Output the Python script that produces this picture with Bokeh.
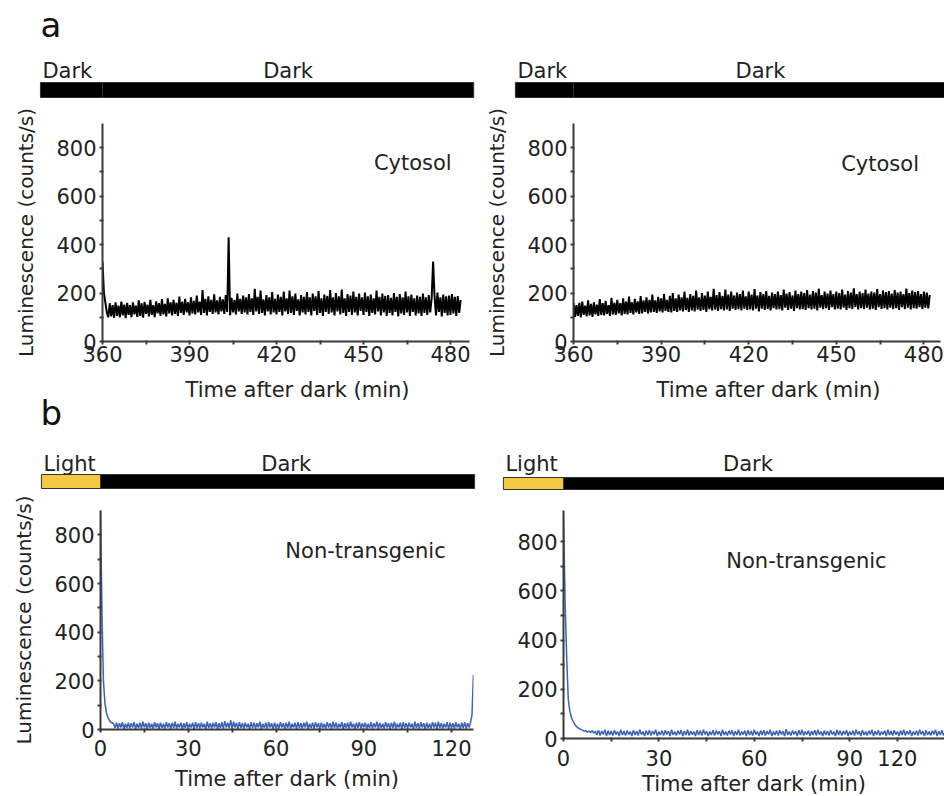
from bokeh.plotting import figure
from bokeh.layouts import column, row
from bokeh.models import Range1d, FixedTicker, Label
from bokeh.embed import file_html
from bokeh.resources import INLINE

FONT = "DejaVu Sans"
FS = "21px"
YFS = "20px"
BLUE = "#3a62b8"
YELLOW = "#f4c842"

# ---------------- data ----------------
# panel a, left (Cytosol), sampled every 0.5 min from 360 min
tl_t0, tl_dt = 360, 0.5
tl_values = [
    330, 200, 160, 120, 100, 158, 104, 150, 98, 162, 106, 148, 100, 165, 108, 152, 96, 160, 110, 150,
    100, 162, 112, 148, 102, 170, 106, 158, 98, 164, 114, 152, 104, 172, 110, 150, 100, 166, 116, 158,
    106, 175, 112, 155, 104, 178, 116, 162, 108, 172, 114, 160, 106, 185, 118, 165, 110, 176, 120, 162,
    108, 182, 116, 168, 112, 190, 120, 165, 110, 212, 118, 176, 108, 186, 122, 172, 114, 195, 120, 170,
    112, 184, 124, 174, 114, 192, 122, 430, 108, 180, 120, 172, 112, 198, 124, 176, 114, 190, 120, 182,
    112, 196, 122, 178, 110, 218, 124, 184, 114, 210, 118, 174, 108, 192, 124, 182, 112, 204, 120, 176,
    112, 194, 122, 184, 108, 206, 124, 178, 114, 210, 118, 186, 110, 198, 126, 174, 108, 192, 120, 184,
    112, 204, 122, 182, 108, 198, 126, 186, 110, 208, 118, 178, 106, 194, 122, 188, 114, 212, 120, 182,
    108, 200, 124, 186, 112, 214, 118, 178, 106, 196, 122, 190, 110, 206, 120, 184, 108, 198, 126, 182,
    110, 202, 122, 186, 106, 194, 118, 178, 112, 210, 124, 184, 108, 198, 120, 188, 106, 192, 118, 180,
    108, 200, 122, 184, 104, 196, 116, 182, 110, 206, 120, 186, 106, 194, 122, 178, 108, 190, 116, 184,
    106, 198, 118, 182, 110, 192, 120, 178, 330, 186, 108, 202, 122, 182, 104, 194, 118, 186, 108, 190,
    110, 196, 116, 184, 106, 188, 118, 172,
]

# panel a, right (Cytosol)
tr_t0, tr_dt = 360, 0.5
tr_values = [
    158, 102, 150, 106, 160, 100, 165, 110, 148, 104, 170, 108, 155, 102, 162, 112, 152, 106, 175, 110,
    158, 108, 168, 114, 150, 106, 180, 112, 160, 110, 172, 116, 158, 108, 178, 114, 165, 112, 185, 118,
    162, 112, 176, 120, 166, 114, 188, 116, 170, 122, 182, 116, 172, 120, 194, 122, 170, 118, 184, 124,
    178, 120, 196, 126, 172, 122, 188, 120, 200, 126, 178, 122, 194, 128, 182, 124, 206, 130, 180, 122,
    196, 128, 188, 124, 210, 132, 182, 126, 200, 130, 190, 122, 206, 134, 184, 128, 218, 132, 192, 126,
    204, 134, 188, 128, 214, 132, 194, 126, 206, 136, 190, 130, 202, 134, 196, 128, 210, 136, 186, 130,
    206, 132, 194, 128, 216, 136, 190, 124, 204, 136, 196, 130, 208, 134, 188, 128, 202, 138, 196, 132,
    206, 134, 192, 128, 214, 140, 198, 130, 204, 136, 190, 126, 210, 138, 196, 132, 206, 134, 200, 130,
    212, 138, 194, 132, 208, 136, 202, 128, 218, 140, 192, 134, 206, 138, 198, 130, 210, 142, 196, 132,
    206, 136, 200, 132, 214, 140, 194, 130, 208, 138, 202, 134, 220, 142, 196, 132, 206, 138, 200, 134,
    214, 140, 198, 132, 206, 136, 202, 130, 216, 142, 196, 134, 210, 138, 204, 132, 208, 140, 198, 134,
    212, 138, 202, 130, 206, 142, 196, 134, 218, 140, 200, 132, 210, 138, 204, 136, 208, 142, 196, 134,
    206, 140, 202, 137, 192,
]

# panel b, left (Non-transgenic), every 0.5 min from 0
bl_t0, bl_dt = 0, 0.5
bl_values = [
    910, 480, 200, 110, 70, 50, 38, 30, 28, 24, 6, 28, 4, 26, 8, 30, 2, 24, 6, 28,
    4, 26, 8, 30, 2, 24, 6, 28, 4, 32, 8, 26, 2, 28, 6, 24, 4, 30, 8, 26,
    2, 28, 6, 24, 4, 30, 8, 26, 2, 28, 6, 32, 4, 24, 8, 28, 2, 26, 6, 30,
    4, 24, 8, 28, 2, 30, 6, 26, 4, 28, 8, 24, 2, 32, 6, 26, 4, 28, 8, 30,
    2, 26, 6, 30, 4, 34, 8, 28, 6, 38, 4, 32, 8, 28, 2, 30, 6, 26, 4, 28,
    8, 24, 2, 30, 6, 28, 4, 26, 8, 32, 2, 24, 6, 28, 4, 30, 8, 26, 2, 28,
    6, 24, 4, 30, 8, 26, 2, 28, 6, 32, 4, 24, 8, 28, 2, 30, 6, 26, 4, 28,
    8, 32, 2, 24, 6, 28, 4, 30, 8, 26, 2, 28, 6, 24, 4, 30, 8, 26, 2, 32,
    6, 28, 4, 24, 8, 30, 2, 26, 6, 28, 4, 32, 8, 24, 2, 28, 6, 30, 4, 26,
    8, 28, 2, 24, 6, 30, 4, 26, 8, 32, 2, 28, 6, 24, 4, 30, 8, 26, 2, 28,
    6, 32, 4, 24, 8, 28, 2, 30, 6, 26, 4, 28, 8, 24, 2, 32, 6, 26, 4, 30,
    8, 26, 2, 28, 6, 24, 4, 30, 8, 28, 2, 32, 6, 26, 4, 24, 8, 30, 2, 28,
    6, 26, 4, 30, 8, 24, 2, 28, 6, 30, 4, 26, 8, 28, 60, 225,
]

# panel b, right (Non-transgenic)
br_t0, br_dt = 0, 0.5
br_values = [
    900, 560, 330, 160, 110, 85, 70, 58, 50, 44, 40, 36, 34, 30, 32, 26, 30, 24, 32, 22,
    30, 14, 34, 12, 30, 16, 36, 10, 32, 14, 30, 12, 34, 16, 28, 10, 36, 14, 30, 12,
    32, 16, 28, 10, 34, 14, 30, 12, 36, 16, 28, 10, 32, 14, 34, 12, 30, 16, 36, 10,
    28, 14, 32, 12, 34, 16, 30, 10, 36, 14, 28, 12, 32, 16, 34, 10, 30, 14, 36, 12,
    30, 16, 28, 10, 34, 14, 32, 12, 36, 16, 30, 10, 28, 14, 34, 12, 32, 16, 30, 10,
    36, 14, 28, 12, 32, 16, 34, 10, 30, 14, 36, 12, 28, 16, 32, 10, 34, 14, 30, 12,
    36, 16, 28, 10, 32, 14, 34, 12, 30, 16, 36, 10, 28, 14, 32, 12, 34, 16, 30, 10,
    38, 14, 28, 12, 32, 16, 30, 10, 34, 14, 36, 12, 28, 16, 32, 10, 30, 14, 34, 12,
    36, 16, 28, 10, 32, 14, 30, 12, 34, 16, 28, 10, 36, 14, 32, 12, 30, 16, 34, 10,
    28, 14, 32, 12, 36, 16, 30, 10, 34, 14, 28, 12, 32, 16, 36, 10, 30, 14, 34, 12,
    28, 16, 32, 10, 36, 14, 30, 12, 34, 16, 28, 10, 32, 14, 36, 12, 30, 16, 34, 10,
    28, 14, 32, 12, 36, 16, 30, 10, 34, 14, 28, 12, 32, 16, 36, 10, 30, 14, 34, 12,
    26,
]

# light/dark regimes (minutes)
tl_periods = dict(labels=["Dark", "Dark"], start=[338.6, 360], end=[360, 488], color=["black", "black"])
tr_periods = dict(labels=["Dark", "Dark"], start=[340.1, 360], end=[360, 490], color=["black", "black"])
bl_periods = dict(labels=["Light", "Dark"], start=[-20.2, 0], end=[0, 127.9], color=[YELLOW, "black"])
br_periods = dict(labels=["Light", "Dark"], start=[-18.9, 0], end=[0, 125], color=[YELLOW, "black"])

y_ticks = [0, 200, 400, 600, 800]
y_minor = [100, 300, 500, 700]
a_xticks = [360, 390, 420, 450, 480]
a_xminor = [375, 405, 435, 465]
bl_xticks = [0, 30, 60, 90, 120]
bl_xminor = [15, 45, 75, 105]
br_xticks = [0, 30, 60, 90, 105]
br_xminor = [15, 45, 75]
br_tick_labels = {105: "120"}

YLABEL = "Luminescence (counts/s)"
XLABEL = "Time after dark (min)"


def style_axis(ax, label, tick_std, label_std, label_fs):
    ax.axis_line_width = 2
    ax.axis_line_color = "#3a3a3a"
    ax.major_tick_line_color = "#3a3a3a"
    ax.minor_tick_line_color = "#3a3a3a"
    ax.major_tick_line_width = 2
    ax.minor_tick_line_width = 2
    ax.major_tick_out = 3
    ax.major_tick_in = 1
    ax.minor_tick_out = 3
    ax.minor_tick_in = 1
    ax.major_label_text_font = FONT
    ax.major_label_text_font_size = FS
    ax.major_label_text_color = "#222222"
    ax.major_label_standoff = tick_std
    ax.axis_label = label
    ax.axis_label_text_font = FONT
    ax.axis_label_text_font_size = label_fs
    ax.axis_label_text_font_style = "normal"
    ax.axis_label_text_color = "#222222"
    ax.axis_label_standoff = label_std


def main_fig(t, v, color, xr, yend, fw, fh, bl, br, bt, bb, xticks, xminor,
             ylabel, xlabel, ann, ann_x, ann_y, xstd, xlstd, lw, overrides=None):
    p = figure(frame_width=fw, frame_height=fh, x_range=Range1d(*xr), y_range=Range1d(0, yend),
               output_backend="svg", toolbar_location=None,
               min_border_left=bl, min_border_right=br, min_border_top=bt, min_border_bottom=bb)
    p.outline_line_color = None
    p.grid.visible = False
    p.background_fill_color = "white"
    p.border_fill_color = "white"
    p.xaxis.ticker = FixedTicker(ticks=xticks, minor_ticks=xminor)
    p.yaxis.ticker = FixedTicker(ticks=y_ticks, minor_ticks=y_minor)
    if overrides:
        p.xaxis.major_label_overrides = overrides
    style_axis(p.xaxis[0], xlabel, xstd, xlstd, FS)
    style_axis(p.yaxis[0], ylabel, 3, 15, YFS)
    p.line(t, v, line_color=color, line_width=lw)
    p.add_layout(Label(x=ann_x, y=ann_y, text=ann, text_font=FONT, text_font_size=FS,
                       text_color="#222222", text_align="center", text_baseline="middle"))
    return p


def bar_fig(width, height, xr_main, fw, bl, periods, bar_bottom, bar_top, text_y,
            dark_center, letter=None, letter_y=None, xtitle=None):
    """Strip with the light/dark bar; shares the time scale of the panel below it.
    xtitle = (text, pixel offset from the strip's left edge, y) for the axis title of
    the panel above, which is drawn in this strip."""
    ppm = fw / (xr_main[1] - xr_main[0])
    x0 = xr_main[0] - bl / ppm
    x1 = xr_main[0] + (width - bl) / ppm
    p = figure(width=width, height=height, x_range=Range1d(x0, x1), y_range=Range1d(0, height),
               output_backend="svg", toolbar_location=None, min_border=0,
               x_axis_location=None, y_axis_location=None)
    p.outline_line_color = None
    p.grid.visible = False
    p.quad(left=periods["start"], right=periods["end"], bottom=bar_bottom, top=bar_top,
           fill_color=periods["color"], line_color="#333333", line_width=1)
    p.add_layout(Label(x=periods["start"][0] + 2 / ppm, y=text_y, text=periods["labels"][0],
                       text_font=FONT, text_font_size=FS, text_color="#222222",
                       text_align="left", text_baseline="middle"))
    p.add_layout(Label(x=dark_center, y=text_y, text=periods["labels"][1],
                       text_font=FONT, text_font_size=FS, text_color="#222222",
                       text_align="center", text_baseline="middle"))
    if letter:
        p.add_layout(Label(x=x0 + 40 / ppm, y=letter_y, text=letter, text_font=FONT,
                           text_font_size="34px", text_color="#111111",
                           text_align="left", text_baseline="middle"))
    if xtitle:
        p.add_layout(Label(x=x0 + xtitle[1] / ppm, y=xtitle[2], text=xtitle[0], text_font=FONT,
                           text_font_size=FS, text_color="#222222",
                           text_align="center", text_baseline="middle"))
    return p


tl_t = [tl_t0 + tl_dt * i for i in range(len(tl_values))]
tr_t = [tr_t0 + tr_dt * i for i in range(len(tr_values))]
bl_t = [bl_t0 + bl_dt * i for i in range(len(bl_values))]
br_t = [br_t0 + br_dt * i for i in range(len(br_values))]

TL_XR = (360, 360 + 367 / 2.9)
TR_XR = (360, 360 + 367 / 2.92)
BL_XR = (0, 373 / 2.925)
BR_XR = (0, 381 / 3.18)

tl = main_fig(tl_t, tl_values, "black", TL_XR, 900, 367, 218, 102, 11, 23, 32,
              a_xticks, a_xminor, YLABEL, None, "Cytosol", 467, 738, 1, 7, 2)
tr = main_fig(tr_t, tr_values, "black", TR_XR, 900, 367, 218, 93, 4, 23, 32,
              a_xticks, a_xminor, YLABEL, None, "Cytosol", 465, 733, 1, 7, 2)
bl = main_fig(bl_t, bl_values, BLUE, BL_XR, 900, 373, 219, 100, 7, 20, 67,
              bl_xticks, bl_xminor, YLABEL, XLABEL, "Non-transgenic", 90.6, 733, 7, 8, 1.5)
br = main_fig(br_t, br_values, BLUE, BR_XR, 926, 381, 228, 83, 0, 12, 66,
              br_xticks, br_xminor, None, XLABEL, "Non-transgenic", 76.4, 719, 8, 3, 1.5,
              br_tick_labels)

tlb = bar_fig(480, 100, TL_XR, 367, 102, tl_periods, 3, 18, 30, 424, "a", 75.5)
trb = bar_fig(464, 100, TR_XR, 367, 93, tr_periods, 3, 18, 30, 424)
blb = bar_fig(480, 117, BL_XR, 373, 100, bl_periods, 2, 16, 27, 63.5, "b", 78,
              xtitle=(XLABEL, 297, 101))
brb = bar_fig(464, 117, BR_XR, 381, 83, br_periods, 1, 13, 27, 58,
              xtitle=(XLABEL, 288, 101))

layout = column(row(tlb, trb), row(tl, tr), row(blb, brb), row(bl, br))

open("out.html", "w").write(file_html(layout, INLINE))
